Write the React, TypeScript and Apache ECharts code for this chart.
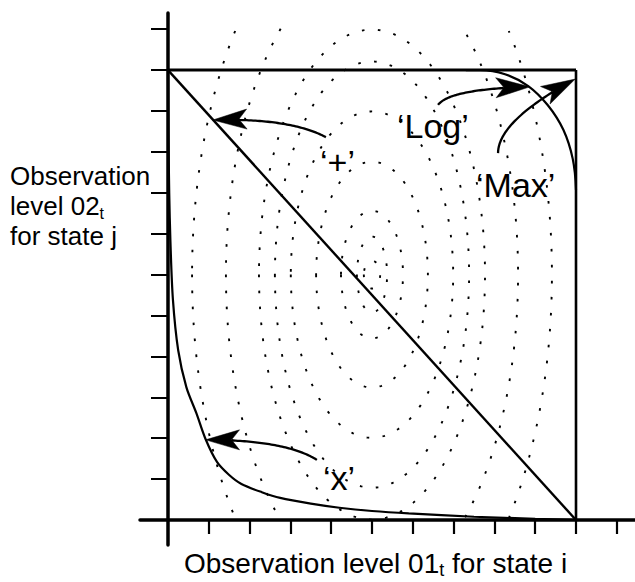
import React, { useEffect, useRef } from "react";
import * as echarts from "echarts";

const FONT = '"Liberation Sans", Arial, Helvetica, sans-serif';

// Axis tick positions (axis units)
const xTickValues = [1, 2, 3, 4, 5, 6, 7, 8, 9, 10, 11];
const yTickValues = [1, 2, 3, 4, 5, 6, 7, 8, 9, 10, 11, 12];

// Box, diagonal ('+') and curves
const boxTop = [[0, 11], [10, 11]];
const boxRight = [[10, 0], [10, 11]];
const diagonal = [[0, 11], [10, 0]];

const curveX = [
  [0.0, 11.0], [0.01, 9.5], [0.03, 8.0], [0.06, 6.8], [0.12, 5.4], [0.25, 4.15],
  [0.45, 3.25], [0.7, 2.6], [0.92, 1.98], [1.2, 1.42], [1.5, 1.1], [1.8, 0.88],
  [2.3, 0.68], [2.75, 0.54], [3.5, 0.4], [4.2, 0.3], [5.0, 0.22], [5.9, 0.16],
  [7.5, 0.08], [9.0, 0.03], [10.0, 0.0],
];

const curveLog = [
  [7.3, 11.0], [7.65, 11.0], [8.26, 10.9], [8.83, 10.61], [9.31, 10.14],
  [9.69, 9.54], [9.92, 8.83], [10.0, 8.07],
];

// Dotted contour rings (ellipses)
const ringCenterX = 5.0;
const ringCenterY = 6.0;
const ringRx = [0.2, 0.37, 0.76, 1.37, 1.99, 2.38, 2.77, 3.58, 4.41];
const ringRy = [0.34, 0.93, 1.56, 2.76, 3.99, 5.21, 5.99, 7.7, 9.17];
const ringClipTop = 12.05;
const ringClipBottom = 0;

// Annotation arrows: start, control point, tip
const arrowFrom = [[3.87, 9.36], [3.65, 1.47], [6.62, 10.15], [8.09, 8.97]];
const arrowCtrl = [[2.99, 9.83], [2.87, 1.96], [6.91, 10.54], [8.09, 9.76]];
const arrowTo = [[1.1, 9.78], [0.92, 1.96], [8.87, 10.59], [9.98, 10.78]];

const labelTexts = ["\u2018+\u2019", "\u2018x\u2019", "\u2018Log\u2019", "\u2018Max\u2019"];

function renderRing(params: any, api: any) {
  const cx = api.value(0);
  const cy = api.value(1);
  const rx = api.value(2);
  const ry = api.value(3);
  const segs: number[][][] = [];
  let cur: number[][] = [];
  const N = 400;
  for (let i = 0; i <= N; i++) {
    const a = Math.PI + (i / N) * Math.PI * 2;
    const x = cx + rx * Math.cos(a);
    const y = cy + ry * Math.sin(a);
    if (y > ringClipTop || y < ringClipBottom) {
      if (cur.length > 1) segs.push(cur);
      cur = [];
      continue;
    }
    cur.push(api.coord([x, y]));
  }
  if (cur.length > 1) segs.push(cur);
  return {
    type: "group",
    children: segs.map((pts) => ({
      type: "polyline",
      shape: { points: pts },
      style: { stroke: "#000", fill: null, lineWidth: 1.9, lineDash: [2.6, 13.4] },
    })),
  };
}

function renderArrow(params: any, api: any) {
  const p0 = api.coord([api.value(0), api.value(1)]);
  const pc = api.coord([api.value(2), api.value(3)]);
  const p1 = api.coord([api.value(4), api.value(5)]);
  const dx = p1[0] - pc[0];
  const dy = p1[1] - pc[1];
  const len = Math.hypot(dx, dy) || 1;
  const ux = dx / len;
  const uy = dy / len;
  const nx = -uy;
  const ny = ux;
  const L = 34;
  const W = 10;
  const notch = 8;
  const bx = p1[0] - ux * L;
  const by = p1[1] - uy * L;
  const mx = p1[0] - ux * (L - notch);
  const my = p1[1] - uy * (L - notch);
  const pts: number[][] = [];
  for (let i = 0; i <= 60; i++) {
    const t = i / 60;
    const a = (1 - t) * (1 - t);
    const b = 2 * (1 - t) * t;
    const c = t * t;
    const x = a * p0[0] + b * pc[0] + c * p1[0];
    const y = a * p0[1] + b * pc[1] + c * p1[1];
    if (Math.hypot(x - p1[0], y - p1[1]) < L - notch) break;
    pts.push([x, y]);
  }
  pts.push([mx, my]);
  return {
    type: "group",
    children: [
      {
        type: "polyline",
        shape: { points: pts },
        style: { stroke: "#000", fill: null, lineWidth: 2.3 },
      },
      {
        type: "polygon",
        shape: {
          points: [
            [p1[0], p1[1]],
            [bx + nx * W, by + ny * W],
            [mx, my],
            [bx - nx * W, by - ny * W],
          ],
        },
        style: { fill: "#000", stroke: "#000", lineWidth: 0.5 },
      },
    ],
  };
}

function lineSeries(data: number[][], width: number, smooth: number | boolean = false) {
  return {
    type: "line",
    data,
    showSymbol: false,
    symbol: "none",
    smooth,
    silent: true,
    z: 3,
    lineStyle: { color: "#000", width },
  };
}

export default function App() {
  const ref = useRef<HTMLDivElement>(null);

  useEffect(() => {
    if (!ref.current) return;
    const chart = echarts.init(ref.current, undefined, { renderer: "svg" });

    const labelStyle = (text: string) => ({
      text,
      fill: "#000",
      font: `34px ${FONT}`,
      align: "left",
      verticalAlign: "middle",
    });

    const option: any = {
      animation: false,
      backgroundColor: "#fff",
      grid: { left: 140, right: 0, top: 13, bottom: 37, containLabel: false, outerBoundsMode: "none" },
      xAxis: {
        type: "value",
        min: -0.686,
        max: 11.446,
        axisLine: { show: true, onZero: true, lineStyle: { color: "#000", width: 3.5 } },
        axisTick: {
          show: true,
          customValues: xTickValues,
          length: 14,
          lineStyle: { color: "#000", width: 2.2 },
        },
        axisLabel: { show: false },
        splitLine: { show: false },
      },
      yAxis: {
        type: "value",
        min: -0.611,
        max: 12.396,
        axisLine: { show: true, onZero: true, lineStyle: { color: "#000", width: 3.5 } },
        axisTick: {
          show: true,
          customValues: yTickValues,
          length: 17,
          lineStyle: { color: "#000", width: 2 },
        },
        axisLabel: { show: false },
        splitLine: { show: false },
      },
      series: [
        {
          type: "custom",
          coordinateSystem: "cartesian2d",
          renderItem: renderRing,
          data: ringRx.map((rx, i) => [ringCenterX, ringCenterY, rx, ringRy[i]]),
          encode: { x: 0, y: 1 },
          silent: true,
          z: 1,
        },
        lineSeries(boxTop, 3),
        lineSeries(boxRight, 2.6),
        lineSeries(diagonal, 2.4),
        lineSeries(curveX, 2.2, 0.3),
        lineSeries(curveLog, 2.2, 0.4),
        {
          type: "custom",
          coordinateSystem: "cartesian2d",
          renderItem: renderArrow,
          data: arrowFrom.map((f, i) => [f[0], f[1], arrowCtrl[i][0], arrowCtrl[i][1], arrowTo[i][0], arrowTo[i][1]]),
          encode: { x: 0, y: 1 },
          silent: true,
          z: 4,
        },
      ],
      graphic: [
        { type: "text", x: 320, y: 162, style: labelStyle(labelTexts[0]) },
        { type: "text", x: 323, y: 478, style: labelStyle(labelTexts[1]) },
        { type: "text", x: 397, y: 126, style: labelStyle(labelTexts[2]) },
        { type: "text", x: 476, y: 185, style: labelStyle(labelTexts[3]) },
        {
          type: "text",
          x: 10,
          y: 161,
          style: {
            text: "{a|Observation}\n{a|level 02}{s|t}\n{a|for state j}",
            align: "left",
            verticalAlign: "top",
            rich: {
              a: { fontSize: 26, fontFamily: FONT, lineHeight: 30, fill: "#000" },
              s: { fontSize: 16, fontFamily: FONT, lineHeight: 8, verticalAlign: "bottom", fill: "#000" },
            },
          },
        },
        {
          type: "text",
          x: 184,
          y: 547,
          style: {
            text: "{a|Observation level 01}{s|t}{a| for state i}",
            align: "left",
            verticalAlign: "top",
            rich: {
              a: { fontSize: 28, fontFamily: FONT, lineHeight: 32, fill: "#000" },
              s: { fontSize: 18, fontFamily: FONT, lineHeight: 18, verticalAlign: "bottom", fill: "#000" },
            },
          },
        },
      ],
    };

    chart.setOption(option);
    return () => {
      chart.dispose();
    };
  }, []);

  return (
    <div
      ref={ref}
      style={{ position: "fixed", left: 0, top: 0, width: 635, height: 582, background: "#fff" }}
    />
  );
}
